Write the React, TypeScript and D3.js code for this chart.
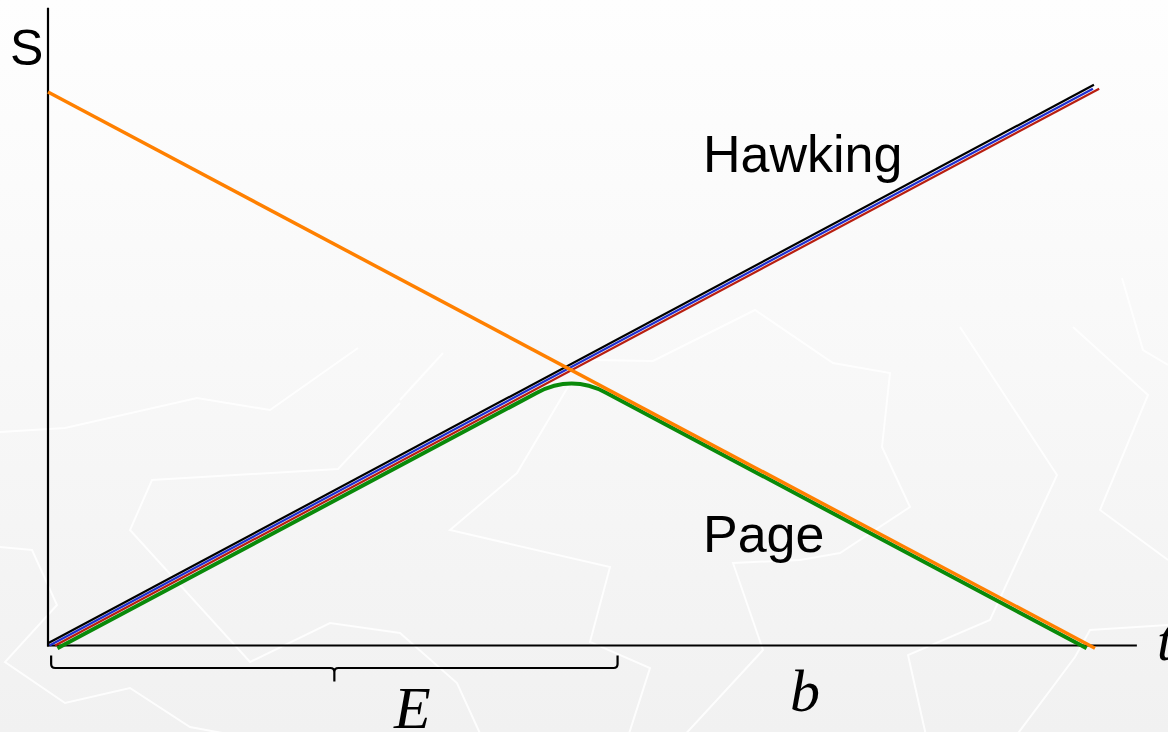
import React from "react";
import * as d3 from "d3";

const W = 1168;
const H = 732;

// Time t and entropy S, in arbitrary units
const bekensteinHawking = [
  { t: 0, s: 10 },
  { t: 10, s: -0.05 },
];
const hawkingBlack = [
  { t: 0, s: 0.04 },
  { t: 9.99, s: 10.13 },
];
const hawkingBlue = [
  { t: 0.014, s: 0 },
  { t: 9.98, s: 10.06 },
];
const hawkingRed = [
  { t: 0.068, s: 0 },
  { t: 10.04, s: 10.06 },
];
// Page curve: rise, turnover (Page time), fall
const pageCurve = [
  { t: 0.09, s: -0.05 },
  { t: 5.0, s: 4.9 },
  { t: 9.92, s: -0.05 },
];
const pageRounding = 0.33;

// brace marking the early (E) period, and the late period label (b)
const braceSpan = [0.03, 5.44];
const periodLabels = [
  { text: "E", t: 3.48 },
  { text: "b", t: 7.23 },
];
const axisExtent = { tMax: 10.4, sMax: 11.52 };

// faint decorative background strokes
const bgStrokes: [number, number][][] = [
  [[0, 432], [65, 428], [197, 398], [270, 410], [358, 348]],
  [[0, 547], [32, 550], [57, 605], [5, 662], [65, 703], [130, 688], [190, 727], [260, 740]],
  [[400, 403], [338, 469], [152, 480], [130, 530], [250, 662], [330, 623], [400, 633], [457, 683], [483, 740]],
  [[443, 353], [400, 400]],
  [[572, 380], [517, 473], [450, 530], [610, 567], [590, 642], [650, 668], [627, 740]],
  [[590, 360], [653, 361], [755, 310], [833, 363], [890, 373], [882, 447], [910, 507], [840, 553], [800, 560], [733, 563], [763, 650], [680, 740]],
  [[960, 327], [1057, 475], [990, 620], [908, 655], [927, 740]],
  [[1073, 327], [1148, 395], [1100, 510], [1168, 560]],
  [[1122, 278], [1143, 350], [1168, 365]],
  [[1013, 740], [1075, 657], [1090, 630], [1168, 625]],
];

export default function App() {
  const x = d3.scaleLinear().domain([0, 10]).range([48, 1095]);
  const y = d3.scaleLinear().domain([0, 10]).range([645.5, 92]);

  const line = d3
    .line<{ t: number; s: number }>()
    .x((d) => x(d.t))
    .y((d) => y(d.s));

  // Page curve with a rounded turnover
  const [p0, pc, p1] = pageCurve;
  const lerp = (a: { t: number; s: number }, b: { t: number; s: number }, t: number) =>
    a.s + ((b.s - a.s) * (t - a.t)) / (b.t - a.t);
  const tA = pc.t - pageRounding;
  const tB = pc.t + pageRounding;
  const pagePath = d3.path();
  pagePath.moveTo(x(p0.t), y(p0.s));
  pagePath.lineTo(x(tA), y(lerp(p0, pc, tA)));
  pagePath.quadraticCurveTo(x(pc.t), y(pc.s), x(tB), y(lerp(pc, p1, tB)));
  pagePath.lineTo(x(p1.t), y(p1.s));

  // curly brace under the axis
  const bx0 = x(braceSpan[0]);
  const bx1 = x(braceSpan[1]);
  const bm = (bx0 + bx1) / 2;
  const y0 = y(0);
  const top = y0 + 10;
  const mid = y0 + 22.5;
  const tip = y0 + 36;
  const r = 4;
  const brace = d3.path();
  brace.moveTo(bx0, top);
  brace.lineTo(bx0, mid - r);
  brace.quadraticCurveTo(bx0, mid, bx0 + r, mid);
  brace.lineTo(bm - r, mid);
  brace.quadraticCurveTo(bm, mid, bm, mid + r);
  brace.lineTo(bm, tip);
  brace.moveTo(bm, mid + r);
  brace.quadraticCurveTo(bm, mid, bm + r, mid);
  brace.lineTo(bx1 - r, mid);
  brace.quadraticCurveTo(bx1, mid, bx1, mid - r);
  brace.lineTo(bx1, top);

  const bgLine = d3.line<[number, number]>();

  return (
    <svg
      width={W}
      height={H}
      viewBox={`0 0 ${W} ${H}`}
      style={{ position: "absolute", left: 0, top: 0, display: "block" }}
    >
      <defs>
        <linearGradient id="bg" x1="0" y1="0" x2="0" y2="1">
          <stop offset="0" stopColor="#fefefe" />
          <stop offset="0.5" stopColor="#f8f8f8" />
          <stop offset="1" stopColor="#f1f1f1" />
        </linearGradient>
      </defs>
      <rect x={0} y={0} width={W} height={H} fill="url(#bg)" />
      <g fill="none" stroke="#ffffff" strokeWidth={2} strokeOpacity={0.85}>
        {bgStrokes.map((s, i) => (
          <path key={i} d={bgLine(s) || ""} />
        ))}
      </g>

      {/* axes */}
      <g stroke="#000" strokeWidth={2.2} fill="none">
        <line x1={x(0)} x2={x(0)} y1={y(0) + 1} y2={y(axisExtent.sMax)} />
        <line x1={x(0) - 1} x2={x(axisExtent.tMax)} y1={y(0)} y2={y(0)} />
      </g>

      {/* Page curve */}
      <path d={pagePath.toString()} fill="none" stroke="#0a8a0a" strokeWidth={4} strokeLinejoin="round" />

      {/* Hawking radiation entropy */}
      <path d={line(hawkingRed) || ""} fill="none" stroke="#b81e10" strokeWidth={2.2} />
      <path d={line(hawkingBlue) || ""} fill="none" stroke="#1f2fd0" strokeWidth={2.2} />
      <path d={line(hawkingBlack) || ""} fill="none" stroke="#000" strokeWidth={2.2} />

      {/* black hole entropy */}
      <path d={line(bekensteinHawking) || ""} fill="none" stroke="#ff8000" strokeWidth={3.5} />

      <path d={brace.toString()} fill="none" stroke="#000" strokeWidth={2.2} />

      <g fontFamily="'Liberation Sans', Arial, sans-serif" fill="#000">
        <text x={10} y={65} fontSize={50}>S</text>
        <text x={703} y={172} fontSize={52}>Hawking</text>
        <text x={703} y={552} fontSize={52}>Page</text>
      </g>
      <g fontFamily="'Liberation Serif', 'Times New Roman', serif" fontStyle="italic" fill="#000">
        <text x={x(periodLabels[0].t)} y={728} fontSize={60} textAnchor="middle">
          {periodLabels[0].text}
        </text>
        <text x={x(periodLabels[1].t)} y={711} fontSize={60} textAnchor="middle">
          {periodLabels[1].text}
        </text>
        <text x={1157} y={660} fontSize={58}>t</text>
      </g>
    </svg>
  );
}
